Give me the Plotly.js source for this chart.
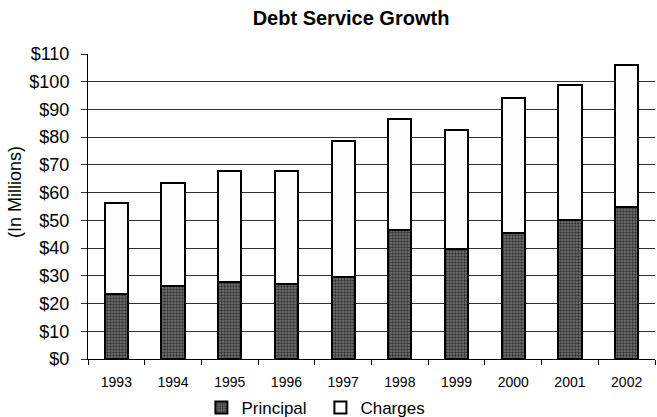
<!DOCTYPE html>
<html><head><meta charset="utf-8">
<script src="https://cdn.plot.ly/plotly-3.0.1.min.js"></script>
<style>html,body{margin:0;padding:0;background:#fff}#chart{width:657px;height:417px}</style>
</head><body><div id="chart"></div>
<script>
const years = ['1993','1994','1995','1996','1997','1998','1999','2000','2001','2002'];
const principal = [23.5, 26.5, 27.8, 27.0, 29.5, 46.5, 39.5, 45.5, 50.0, 55.0];
const charges = [32.9, 37.0, 40.0, 40.8, 49.0, 40.0, 43.0, 48.5, 49.0, 51.0];
const yTickVals = [0,10,20,30,40,50,60,70,80,90,100,110];
const yTickText = yTickVals.map(v => '$' + v);

const font = 'Liberation Sans, Arial, sans-serif';
const traces = [
  {type:'bar', name:'Principal', x:years, y:principal,
   marker:{color:'#5c5c5c', line:{color:'#000', width:2},
     pattern:{shape:'.', fgcolor:'#333', bgcolor:'#777', size:3, solidity:0.5}}},
  {type:'bar', name:'Charges', x:years, y:charges,
   marker:{color:'#fdfdfd', line:{color:'#000', width:2}}}
];
const layout = {
  width:657, height:417,
  margin:{l:88, r:2, t:54, b:58, autoexpand:false},
  barmode:'stack', bargap:0.59,
  paper_bgcolor:'#fff', plot_bgcolor:'#fff',
  font:{family:font, color:'#000'},
  title:{text:'<b>Debt Service Growth</b>', font:{size:20, family:font}, x:351/657, xanchor:'center', y:1-18/417, yanchor:'middle'},
  xaxis:{type:'category', showline:true, linecolor:'#000', linewidth:1,
    ticks:'outside', tickson:'boundaries', ticklen:5, tickcolor:'#000',
    ticklabelstandoff:10,
    tickfont:{size:14, family:font}, showgrid:false},
  yaxis:{range:[0,110], tickvals:yTickVals, ticktext:yTickText,
    showline:true, linecolor:'#000', linewidth:1,
    ticks:'outside', ticklen:6, tickcolor:'#333', ticklabelstandoff:8,
    showgrid:true, gridcolor:'#333', gridwidth:1, zeroline:false,
    tickfont:{size:18, family:font}},
  annotations:[{text:'(In Millions)', xref:'paper', yref:'paper', x:-(88-15)/567, y:(359-192)/305,
    xanchor:'center', yanchor:'middle', textangle:-90, showarrow:false, font:{size:18, family:font}}],
  legend:{orientation:'h', x:0.2, xanchor:'left', y:-(408-359)/305, yanchor:'middle',
    bgcolor:'rgba(0,0,0,0)', font:{size:17, family:font}, traceorder:'normal', itemwidth:30, entrywidth:74},
  showlegend:true
};
Plotly.newPlot('chart', traces, layout, {displayModeBar:false, staticPlot:true});
</script></body></html>
